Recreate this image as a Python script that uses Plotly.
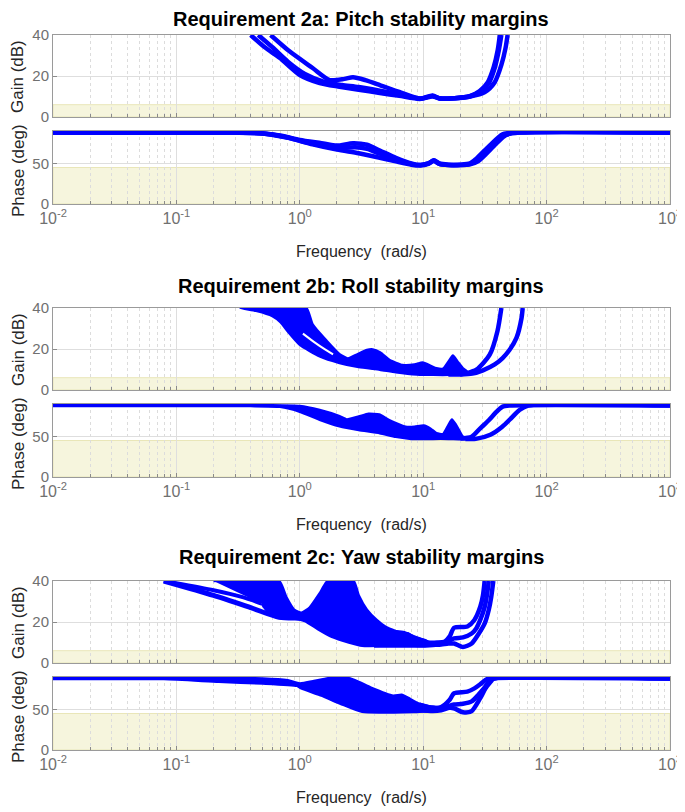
import plotly.graph_objects as go

# ---------------- data (frequency in rad/s, gain in dB, phase in deg) ----------------
TITLES = ["Requirement 2a: Pitch stability margins",
          "Requirement 2b: Roll stability margins",
          "Requirement 2c: Yaw stability margins"]
XTICK_VALS = [0.01, 0.1, 1, 10, 100, 1000]
XTICK_TEXT = ["10<sup>-2</sup>", "10<sup>-1</sup>", "10<sup>0</sup>", "10<sup>1</sup>", "10<sup>2</sup>", "10<sup>3</sup>"]
GAIN_TICKS = [0, 20, 40]
PHASE_TICKS = [0, 50]
GAIN_BOUND = 6      # dB, required gain margin
PHASE_BOUND = 45    # deg, required phase margin

# --- Pitch (2a) gain curves
pitch_gain_a_w = [0.40, 0.52, 0.69, 1.0, 1.45, 2.1, 3.0, 4.45, 6.4, 9.4, 11.9, 13.6, 18, 23.8, 28.7, 33.4, 37.3, 40.2, 41.8]
pitch_gain_a_db = [40, 34, 28.8, 20.5, 16.6, 14.8, 13.3, 11.7, 10.3, 8.8, 10.3, 9.0, 9.2, 10.2, 12.7, 17, 24.4, 32.7, 40]
pitch_gain_b_w = [0.58, 0.83, 1.27, 1.75, 2.3, 2.7, 3.4, 4.45, 6.4, 9.4, 11.9, 13.6, 18, 24, 31.6, 38, 43, 46.5, 48.3]
pitch_gain_b_db = [40, 31.9, 23.9, 18.0, 18.6, 19.4, 18.0, 15.6, 12.2, 9.0, 10.5, 9.0, 9.2, 10.0, 12.2, 17, 25.4, 33.7, 40]
pitch_gain_c_w = [0.46, 0.6, 0.8, 1.1, 1.6, 2.2, 3.0, 4.45, 6.4, 9.4, 11.9, 13.6, 18, 23.8, 29, 34, 38, 41, 43]
pitch_gain_c_db = [40, 34, 27, 21, 17, 15.6, 14.6, 12.8, 11.0, 9.0, 10.0, 9.2, 9.2, 10.0, 12.5, 16.5, 24, 32.5, 40]
# --- Pitch (2a) phase curves
pitch_phase_a_w = [0.01, 0.3, 0.45, 0.69, 1.0, 1.5, 2.0, 2.7, 3.5, 4.45, 6.0, 8.0, 9.5, 11.0, 12.2, 13.5, 16, 20, 24, 27, 34.5, 44, 55, 1000]
pitch_phase_a_deg = [88, 88, 87.5, 84.5, 79, 75, 72, 75, 73, 66, 57, 50, 48, 50, 54, 50, 48.5, 48.5, 50, 56, 72, 86, 88, 88]
pitch_phase_b_w = [0.01, 0.35, 0.5, 0.81, 1.27, 2.0, 3.0, 4.45, 6.0, 8.0, 9.5, 11.0, 12.2, 13.5, 16, 20, 24, 28, 33, 40, 47, 60, 1000]
pitch_phase_b_deg = [88, 88, 87, 81.5, 73.5, 67, 62.5, 57, 52.5, 48.5, 47.5, 49.5, 53, 49.5, 48, 48, 49, 53, 63, 76, 85, 88, 88]
pitch_phase_c_w = [0.01, 0.32, 0.48, 0.75, 1.1, 1.6, 2.2, 2.8, 3.5, 4.45, 6.0, 8.0, 9.5, 11.0, 12.2, 13.5, 16, 20, 24, 28, 35, 44, 55, 1000]
pitch_phase_c_deg = [88, 88, 87.3, 83, 76.5, 71.5, 69, 70, 68, 62, 55, 49.5, 48, 50, 53.5, 49.5, 48, 48, 49.5, 55, 69, 84, 88, 88]

# --- Roll (2b) gain: envelope of the dense family + two separate high-frequency curves
roll_gain_top_w = [0.33, 0.7, 1.13, 1.27, 1.65, 2.1, 2.45, 2.9, 3.5, 3.9, 4.5, 5.35, 6.8, 8.5, 9.9, 11.5, 12.8, 14.5, 16, 17.4, 19, 21, 22.5]
roll_gain_top_db = [40, 40, 40, 32, 24, 17.5, 15.4, 17.3, 19.5, 19.8, 18.2, 14.6, 12.2, 12.4, 13.4, 11.8, 10.6, 10.4, 13.8, 16.8, 13.8, 10.6, 9.2]
roll_gain_bot_w = [0.33, 0.45, 0.6, 0.7, 0.8, 1.0, 1.45, 2.1, 3.0, 4.45, 6.0, 8.9, 12, 16.4, 22.5]
roll_gain_bot_db = [40, 38.5, 36, 33, 28.6, 22.1, 16.4, 13.2, 11.2, 9.9, 8.7, 7.6, 7.4, 7.4, 7.9]
roll_gain_gap_w = [1.06, 1.3, 1.6, 1.86]
roll_gain_gap_db = [27.5, 23.5, 19.8, 17.4]
roll_gain_r1_w = [16, 20, 22.5, 27, 34.6, 40, 43]
roll_gain_r1_db = [7.6, 7.6, 8.2, 9.9, 17.2, 28.8, 40]
roll_gain_r2_w = [20, 25, 30.5, 38, 44, 50, 57, 62.6, 64]
roll_gain_r2_db = [7.6, 8, 9.6, 12.5, 15.6, 19.5, 25.4, 35, 40]
# --- Roll (2b) phase
roll_phase_top_w = [0.01, 0.5, 1.0, 1.45, 2.1, 2.4, 3.0, 3.6, 4.4, 5.3, 7.2, 8.5, 10.1, 11.5, 12.8, 14.5, 16, 17.1, 18.5, 20.9, 22.5]
roll_phase_top_deg = [88.6, 88.6, 87.5, 82.5, 75, 71, 74.5, 78, 77, 70, 62, 62, 63.5, 59.5, 54, 53, 64, 71, 64, 50, 48]
roll_phase_bot_w = [0.01, 0.4, 0.69, 1.0, 1.45, 2.1, 3.0, 4.45, 6.0, 8.0, 12, 16, 22.5]
roll_phase_bot_deg = [87.4, 87.4, 86.5, 80.5, 70.5, 62.5, 58, 54, 49.5, 47, 47, 47, 46.5]
roll_phase_r1_w = [20, 24.7, 29, 34, 39, 43.7, 50, 1000]
roll_phase_r1_deg = [47.5, 49.7, 60, 70, 80, 86.5, 88, 88]
roll_phase_r2_w = [22, 26.7, 35, 43.7, 52, 60.3, 71, 1000]
roll_phase_r2_deg = [47, 47, 52, 62, 73, 82.6, 88, 88]

# --- Yaw (2c) gain
yaw_gain_l1_w = [0.079, 0.2, 0.35, 0.49]
yaw_gain_l1_db = [40, 35.5, 32, 29]
yaw_gain_l2_w = [0.079, 0.2, 0.4, 0.68, 1.03]
yaw_gain_l2_db = [40, 33, 27, 22.3, 22]
yaw_gain_mass_w = [0.2, 0.68, 0.78, 0.9, 1.03, 1.2, 1.45, 1.68, 2.73, 3.0, 3.5, 4.2, 5.0, 6.0, 6.7, 7.5, 8.5, 9.3, 10.5,
                   10.5, 8.5, 5.0, 3.2, 2.5, 1.82, 1.4, 1.1, 0.85, 0.68, 0.55, 0.49]
yaw_gain_mass_db = [40, 40, 32, 26, 24.5, 27, 34, 40, 40, 33, 26, 21, 17.5, 15.5, 14.5, 14.5, 12.5, 11.9, 11,
                    8.4, 8.4, 8.4, 8.4, 10, 12.7, 16.5, 20.5, 22, 22, 25, 29]
yaw_gain_top_w = [6, 7, 8, 9.3, 11, 13, 15, 16.4, 17.8, 22.8, 26, 29, 30.5, 31.5]
yaw_gain_top_db = [15, 14.5, 13, 11.5, 10, 10, 10.5, 13, 17.2, 17.8, 21, 27.4, 33, 40]
yaw_gain_mid_w = [6, 8, 9.3, 11, 13, 15, 17.8, 21, 24.7, 27, 29, 31.5, 33, 34]
yaw_gain_mid_db = [12, 10.5, 9.8, 9.2, 9.2, 10, 12, 12.5, 14.4, 17, 21, 27.4, 34, 40]
yaw_gain_bot_w = [4, 6, 8, 10, 12, 14, 16, 17.8, 21, 24.7, 28, 31.5, 34, 35.6, 37]
yaw_gain_bot_db = [8.5, 8.5, 8.5, 8.5, 8.8, 9, 9.5, 9.5, 7.8, 9.5, 14, 19.3, 26, 32.3, 40]
# --- Yaw (2c) phase
yaw_phase_band_w = [0.01, 0.079, 0.5, 0.8, 1.0, 1.3, 1.7, 2.5, 3.0, 3.77, 5.7, 6.7, 7.5, 9.3, 11, 12.9,
                    12.9, 10, 8.57, 3.2, 2.14, 1.5, 1.03, 0.95, 0.5, 0.22, 0.079, 0.01]
yaw_phase_band_deg = [88.6, 88.6, 88.3, 86, 82, 85, 88.5, 88.5, 84, 77, 67, 68, 64.5, 57, 54, 53,
                      47.5, 47.5, 47, 47, 57, 67, 76, 79, 82, 84, 87.4, 87.4]
yaw_phase_top_w = [9.3, 12, 14, 16.4, 17.8, 22.8, 26, 29, 32, 34, 1000]
yaw_phase_top_deg = [56, 52, 53, 62, 70, 72, 76, 81, 86.5, 88, 88]
yaw_phase_mid_w = [9.3, 12, 14, 16, 17.8, 21, 24.7, 28, 31.5, 35.6, 1000]
yaw_phase_mid_deg = [53, 50, 51, 54, 56, 57, 60, 68, 77, 87, 88]
yaw_phase_bot_w = [9.3, 12, 14, 16.4, 18, 21, 24.7, 29, 32, 35.6, 37, 1000]
yaw_phase_bot_deg = [49, 48, 49, 52, 51, 46.5, 48, 64, 76, 85, 88, 88]

# ---------------- layout geometry ----------------
OFF = 8                       # the page body adds an 8 px margin around the figure
W, H = 685 - OFF, 812 - OFF
PANEL_STEP = 273
BLUE = "#0000ff"
FONT = "Liberation Sans"

fig = go.Figure()


def px_y(p):
    return 1 - (p - OFF) / H


def px_x(p):
    return (p - OFF) / W


def line(xa, ya, w, v, width=4.5):
    fig.add_trace(go.Scatter(x=w, y=v, mode="lines", xaxis=xa, yaxis=ya,
                             line=dict(color=BLUE, width=width, shape="spline", smoothing=0.7),
                             hoverinfo="skip", showlegend=False))


def band(xa, ya, w, v):
    fig.add_trace(go.Scatter(x=w, y=v, mode="lines", xaxis=xa, yaxis=ya, fill="toself",
                             fillcolor=BLUE, line=dict(color=BLUE, width=2.5, shape="spline", smoothing=0.5),
                             hoverinfo="skip", showlegend=False))


def band2(xa, ya, w_top, v_top, w_bot, v_bot):
    band(xa, ya, list(w_top) + list(w_bot[::-1]), list(v_top) + list(v_bot[::-1]))


layout = {}
minor_vals = [m * 10 ** e for e in range(-2, 3) for m in range(2, 10)]
axis_common = dict(showline=True, linecolor="#9a9a9a", linewidth=1, mirror=True, automargin=False,
                   ticks="inside", ticklen=4, tickcolor="#8a8a8a", zeroline=False,
                   gridcolor="#dedede", gridwidth=1,
                   tickfont=dict(family=FONT, size=15, color="#707070"))

annotations = []
shapes = []
for k in range(3):
    o = PANEL_STEP * k
    gi, pi = 2 * k + 1, 2 * k + 2
    g_top, g_bot = 35 + o, 117 + o
    p_top, p_bot = 131 + o, 204 + o
    for idx, (top, bot, yr, yt, lab) in zip(
            (gi, pi),
            [(g_top, g_bot, [0, 40], GAIN_TICKS, False), (p_top, p_bot, [0, 90], PHASE_TICKS, True)]):
        sfx = "" if idx == 1 else str(idx)
        layout["xaxis" + sfx] = dict(axis_common, type="log", range=[-2, 3], domain=[px_x(53), px_x(670)],
                                     anchor="y" + sfx, tickmode="array", tickvals=XTICK_VALS,
                                     ticktext=XTICK_TEXT, showticklabels=lab,
                                     tickfont=dict(family=FONT, size=16, color="#707070"),
                                     minor=dict(tickmode="array", tickvals=minor_vals, ticks="inside",
                                                ticklen=3, tickcolor="#8a8a8a", showgrid=True,
                                                gridcolor="#dcdcdc", griddash="dot", gridwidth=1))
        layout["yaxis" + sfx] = dict(axis_common, range=yr, domain=[px_y(bot), px_y(top)],
                                     anchor="x" + sfx, tickmode="array", tickvals=yt)
    # requirement shaded regions
    for idx, lim in ((gi, GAIN_BOUND), (pi, PHASE_BOUND)):
        sfx = "" if idx == 1 else str(idx)
        shapes.append(dict(type="rect", xref="x" + sfx + " domain", yref="y" + sfx,
                           x0=0, x1=1, y0=0, y1=lim, layer="below",
                           fillcolor="#f6f5dd", line=dict(color="#e9e6b8", width=1)))
    title_y = [19, 286, 557][k]
    annotations.append(dict(text="<b>" + TITLES[k] + "</b>", x=px_x(361), y=px_y(title_y),
                            xref="paper", yref="paper", showarrow=False, xanchor="center", yanchor="middle",
                            font=dict(family=FONT, size=20, color="#000000")))
    annotations.append(dict(text="Gain (dB)", x=px_x(18), y=px_y(77 + o), xref="paper", yref="paper",
                            showarrow=False, textangle=-90, xanchor="center", yanchor="middle",
                            font=dict(family=FONT, size=17, color="#262626")))
    annotations.append(dict(text="Phase (deg)", x=px_x(18), y=px_y(171 + o), xref="paper", yref="paper",
                            showarrow=False, textangle=-90, xanchor="center", yanchor="middle",
                            font=dict(family=FONT, size=17, color="#262626")))
    annotations.append(dict(text="Frequency  (rad/s)", x=px_x(361), y=px_y(251 + o),
                            xref="paper", yref="paper", showarrow=False, xanchor="center", yanchor="middle",
                            font=dict(family=FONT, size=16, color="#262626")))

# ---------------- traces ----------------
# Pitch
line("x", "y", pitch_gain_a_w, pitch_gain_a_db)
line("x", "y", pitch_gain_c_w, pitch_gain_c_db)
line("x", "y", pitch_gain_b_w, pitch_gain_b_db)
line("x2", "y2", pitch_phase_a_w, pitch_phase_a_deg)
line("x2", "y2", pitch_phase_c_w, pitch_phase_c_deg)
line("x2", "y2", pitch_phase_b_w, pitch_phase_b_deg)
# Roll
band2("x3", "y3", roll_gain_top_w, roll_gain_top_db, roll_gain_bot_w, roll_gain_bot_db)
fig.add_trace(go.Scatter(x=roll_gain_gap_w, y=roll_gain_gap_db, mode="lines", xaxis="x3", yaxis="y3",
                         line=dict(color="#ffffff", width=2, shape="spline"), hoverinfo="skip", showlegend=False))
line("x3", "y3", roll_gain_r1_w, roll_gain_r1_db)
line("x3", "y3", roll_gain_r2_w, roll_gain_r2_db)
band2("x4", "y4", roll_phase_top_w, roll_phase_top_deg, roll_phase_bot_w, roll_phase_bot_deg)
line("x4", "y4", roll_phase_r1_w, roll_phase_r1_deg)
line("x4", "y4", roll_phase_r2_w, roll_phase_r2_deg)
# Yaw
band("x5", "y5", yaw_gain_mass_w, yaw_gain_mass_db)
line("x5", "y5", yaw_gain_l1_w, yaw_gain_l1_db, width=4)
line("x5", "y5", yaw_gain_l2_w, yaw_gain_l2_db, width=5)
line("x5", "y5", yaw_gain_top_w, yaw_gain_top_db)
line("x5", "y5", yaw_gain_mid_w, yaw_gain_mid_db)
line("x5", "y5", yaw_gain_bot_w, yaw_gain_bot_db)
band("x6", "y6", yaw_phase_band_w, yaw_phase_band_deg)
line("x6", "y6", yaw_phase_top_w, yaw_phase_top_deg)
line("x6", "y6", yaw_phase_mid_w, yaw_phase_mid_deg)
line("x6", "y6", yaw_phase_bot_w, yaw_phase_bot_deg)

fig.update_layout(width=W, height=H, margin=dict(l=0, r=0, t=0, b=0, autoexpand=False),
                  paper_bgcolor="white", plot_bgcolor="white", showlegend=False,
                  annotations=annotations, shapes=shapes, **layout)
fig.write_html("out.html")
